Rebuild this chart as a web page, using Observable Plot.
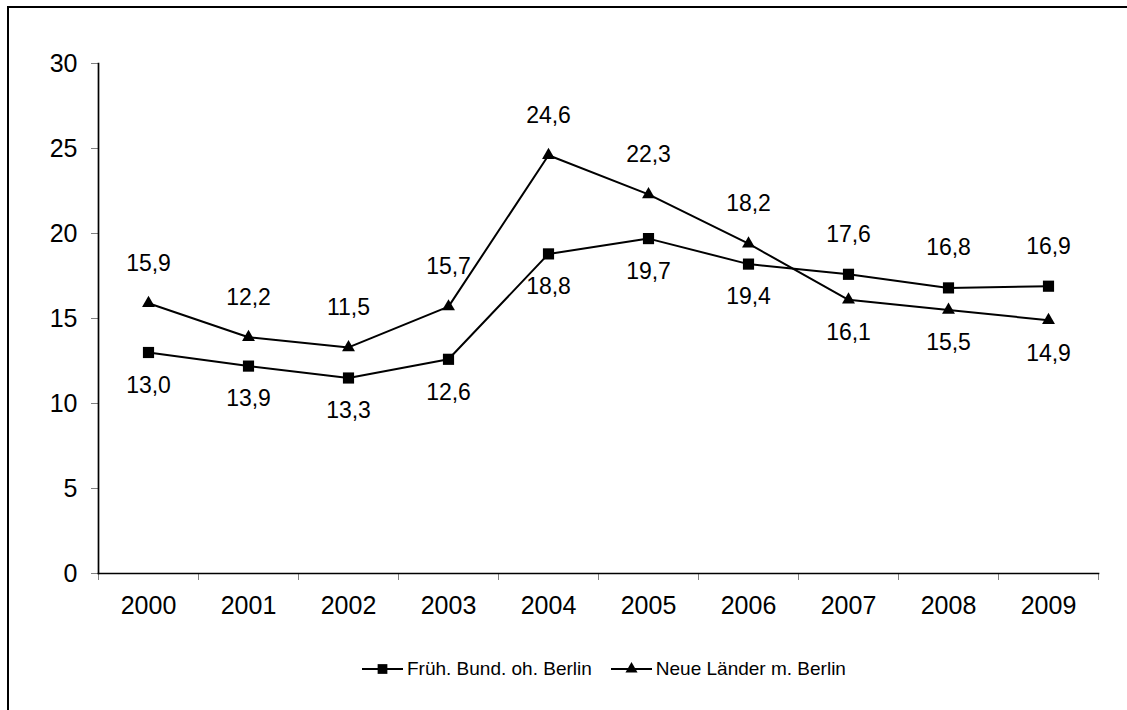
<!DOCTYPE html>
<html>
<head>
<meta charset="utf-8">
<script src="https://cdn.jsdelivr.net/npm/d3@7"></script>
<script src="https://cdn.jsdelivr.net/npm/@observablehq/plot@0.6"></script>
<style>
  html, body { margin: 0; padding: 0; background: #fff; overflow: hidden; }
  body { width: 1127px; height: 710px; position: relative; font-family: "Liberation Sans", Arial, sans-serif; color: #000; }
  #border { position: absolute; left: 7px; top: 6px; width: 1300px; height: 900px; border-left: 2.5px solid #000; border-top: 2.5px solid #000; }
  #chart { position: absolute; left: 0; top: 0; }
  #legend { position: absolute; left: 362px; top: 658px; display: flex; align-items: center; font-size: 19px; white-space: nowrap; }
  .item { display: flex; align-items: center; }
  .item svg { display: block; }
  .item span { margin-left: 4px; }
</style>
</head>
<body>
<div id="border"></div>
<div id="chart"></div>
<div id="legend"></div>
<script>
const years = ["2000","2001","2002","2003","2004","2005","2006","2007","2008","2009"];
const fruehBund = [13.0,12.2,11.5,12.6,18.8,19.7,18.2,17.6,16.8,16.9];
const neueLaender = [15.9,13.9,13.3,15.7,24.6,22.3,19.4,16.1,15.5,14.9];
const labelsAbove = ["15,9","12,2","11,5","15,7","24,6","22,3","18,2","17,6","16,8","16,9"];
const labelsBelow = ["13,0","13,9","13,3","12,6","18,8","19,7","19,4","16,1","15,5","14,9"];
const yTicks = [0,5,10,15,20,25,30];
const seriesNames = ["Früh. Bund. oh. Berlin", "Neue Länder m. Berlin"];
const seriesSymbols = ["square", "triangle"];

const dataA = years.map((y, i) => ({year: y, value: fruehBund[i]}));
const dataB = years.map((y, i) => ({year: y, value: neueLaender[i]}));
const labelRows = years.map((y, i) => ({
  year: y,
  hi: Math.max(fruehBund[i], neueLaender[i]),
  lo: Math.min(fruehBund[i], neueLaender[i]),
  above: labelsAbove[i],
  below: labelsBelow[i]
}));

const chart = Plot.plot({
  width: 1127,
  height: 640,
  marginLeft: 98,
  marginRight: 29,
  marginTop: 63,
  marginBottom: 67,
  style: {fontFamily: '"Liberation Sans", Arial, sans-serif', color: "#000", background: "transparent", overflow: "visible"},
  x: {type: "band", domain: years, padding: 0, label: null},
  y: {domain: [0, 30], label: null},
  marks: [
    Plot.axisY({ticks: yTicks, tickSize: 7, tickPadding: 14, stroke: "#808080", fontSize: 25, tickFormat: d => String(d), label: null}),
    Plot.axisX({ticks: years, tickSize: 7, dx: -50, stroke: "#808080", tickFormat: () => "", label: null}),
    Plot.axisX({ticks: [years[years.length - 1]], tickSize: 7, dx: 50, stroke: "#808080", tickFormat: () => "", label: null}),
    Plot.axisX({ticks: years, tickSize: 0, tickPadding: 23, fontSize: 25, label: null}),
    Plot.frame({anchor: "left", stroke: "#000", strokeWidth: 1.7}),
    Plot.frame({anchor: "bottom", stroke: "#000", strokeWidth: 1.7}),
    Plot.line(dataA, {x: "year", y: "value", stroke: "#000", strokeWidth: 2}),
    Plot.line(dataB, {x: "year", y: "value", stroke: "#000", strokeWidth: 2}),
    Plot.dot(dataA, {x: "year", y: "value", symbol: () => seriesSymbols[0], r: 6.3, fill: "#000", stroke: "none"}),
    Plot.dot(dataB, {x: "year", y: "value", symbol: () => seriesSymbols[1], r: 4.8, fill: "#000", stroke: "none"}),
    Plot.text(labelRows, {x: "year", y: "hi", text: "above", dy: -40, fontSize: 23, fill: "#000"}),
    Plot.text(labelRows, {x: "year", y: "lo", text: "below", dy: 33, fontSize: 23, fill: "#000"})
  ]
});
document.getElementById("chart").appendChild(chart);

// Legend
const legend = d3.select("#legend");
seriesNames.forEach((name, i) => {
  const item = legend.append("div").attr("class", "item").style("margin-left", i ? "19px" : "0px");
  const svg = item.append("svg").attr("width", 41).attr("height", 20);
  svg.append("line").attr("x1", 0).attr("x2", 41).attr("y1", 10).attr("y2", 10).attr("stroke", "#000").attr("stroke-width", 2);
  const sym = i === 0 ? d3.symbolSquare : d3.symbolTriangle;
  const size = i === 0 ? Math.PI * 5.5 * 5.5 : Math.PI * 4.5 * 4.5;
  svg.append("path").attr("d", d3.symbol(sym, size)()).attr("transform", "translate(20.5,10)").attr("fill", "#000");
  item.append("span").text(name);
});
</script>
</body>
</html>
